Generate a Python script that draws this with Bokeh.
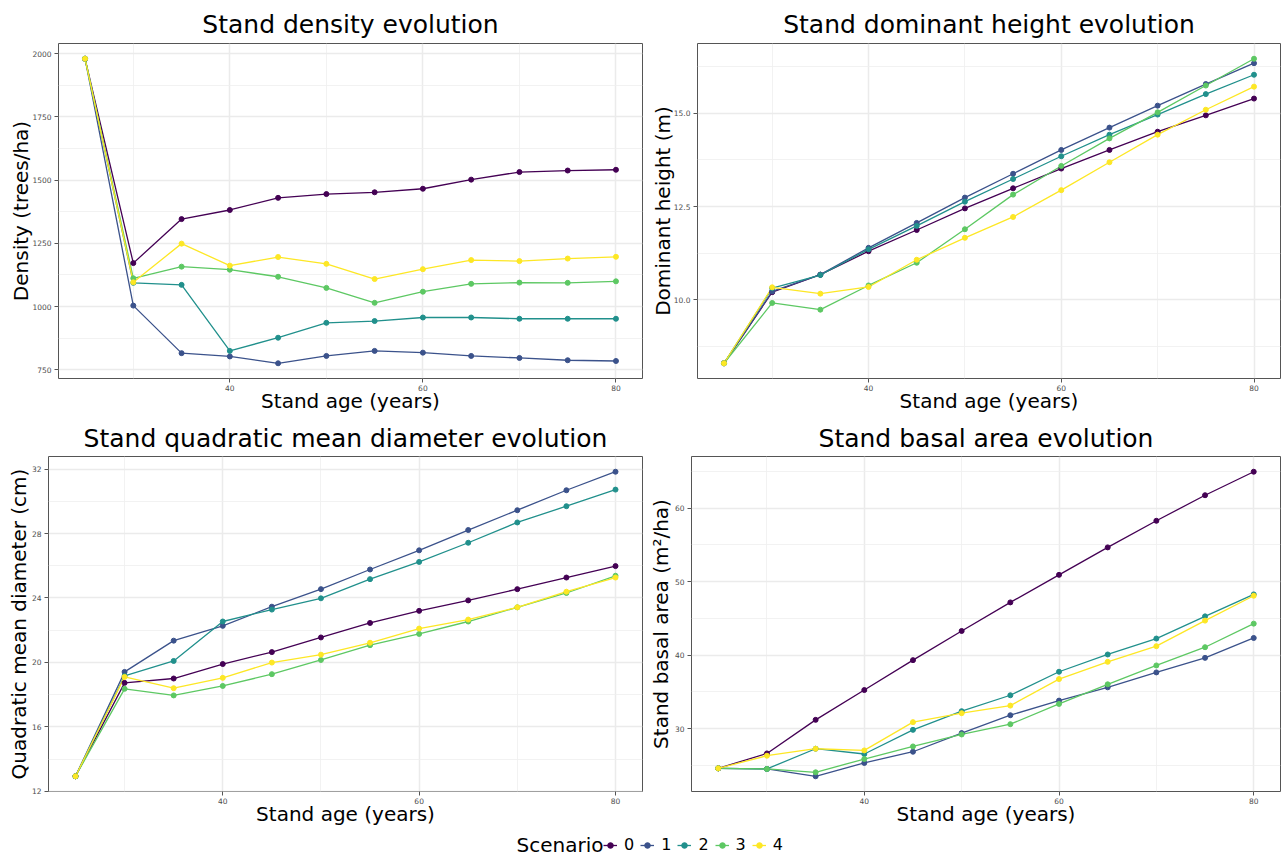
from bokeh.plotting import figure
from bokeh.layouts import column, row
from bokeh.models import Range1d, FixedTicker, Legend, LegendItem, Label
from bokeh.embed import file_html
from bokeh.resources import INLINE

FONT = "DejaVu Sans"

AGES = [25, 30, 35, 40, 45, 50, 55, 60, 65, 70, 75, 80]
SCENARIOS = ["0", "1", "2", "3", "4"]
COLORS = ["#440154", "#3B528B", "#21908C", "#5DC863", "#FDE725"]

# Density (trees/ha)
DENSITY_S0 = [1980, 1172, 1346, 1382, 1430, 1445, 1452, 1466, 1502, 1532, 1538, 1541]
DENSITY_S1 = [1980, 1004, 816, 803, 776, 805, 825, 818, 805, 797, 788, 785]
DENSITY_S2 = [1980, 1094, 1086, 825, 877, 936, 943, 957, 957, 952, 952, 952]
DENSITY_S3 = [1980, 1112, 1158, 1146, 1118, 1074, 1015, 1059, 1090, 1095, 1094, 1100]
DENSITY_S4 = [1980, 1096, 1249, 1162, 1196, 1169, 1109, 1148, 1184, 1180, 1190, 1197]

# Dominant height (m)
HEIGHT_S0 = [8.29, 10.20, 10.67, 11.30, 11.87, 12.45, 12.99, 13.52, 14.02, 14.51, 14.95, 15.40]
HEIGHT_S1 = [8.29, 10.22, 10.67, 11.39, 12.06, 12.74, 13.38, 14.02, 14.62, 15.21, 15.79, 16.35]
HEIGHT_S2 = [8.29, 10.31, 10.66, 11.35, 11.98, 12.63, 13.24, 13.85, 14.43, 14.97, 15.52, 16.04]
HEIGHT_S3 = [8.29, 9.91, 9.73, 10.38, 10.99, 11.89, 12.82, 13.59, 14.33, 15.03, 15.75, 16.47]
HEIGHT_S4 = [8.29, 10.33, 10.16, 10.34, 11.07, 11.66, 12.22, 12.94, 13.69, 14.43, 15.10, 15.72]

# Quadratic mean diameter (cm)
QMD_S0 = [12.93, 18.73, 19.00, 19.90, 20.64, 21.55, 22.45, 23.20, 23.85, 24.55, 25.27, 25.98]
QMD_S1 = [12.93, 19.41, 21.35, 22.27, 23.46, 24.55, 25.77, 26.96, 28.22, 29.45, 30.69, 31.84]
QMD_S2 = [12.93, 19.16, 20.09, 22.54, 23.28, 23.98, 25.17, 26.24, 27.43, 28.69, 29.70, 30.73]
QMD_S3 = [12.93, 18.36, 17.95, 18.54, 19.27, 20.15, 21.07, 21.77, 22.54, 23.42, 24.31, 25.38]
QMD_S4 = [12.93, 19.10, 18.40, 19.04, 19.99, 20.48, 21.22, 22.10, 22.66, 23.42, 24.39, 25.27]

# Basal area (m2/ha)
BA_S0 = [24.58, 26.61, 31.18, 35.24, 39.31, 43.28, 47.17, 50.92, 54.66, 58.28, 61.76, 64.96]
BA_S1 = [24.58, 24.50, 23.50, 25.31, 26.84, 29.38, 31.81, 33.80, 35.61, 37.64, 39.62, 42.33]
BA_S2 = [24.58, 24.50, 27.25, 26.53, 29.82, 32.36, 34.53, 37.73, 40.08, 42.25, 45.27, 48.26]
BA_S3 = [24.58, 24.50, 24.04, 25.85, 27.56, 29.19, 30.59, 33.35, 36.02, 38.59, 41.07, 44.28]
BA_S4 = [24.58, 26.30, 27.25, 27.02, 30.87, 32.09, 33.12, 36.73, 39.08, 41.21, 44.69, 48.08]

X_TICKS = [40, 60, 80]
X_MINOR = [30, 50, 70]
X_TICK_LABELS = ["40", "60", "80"]

DENSITY_TICKS = [750, 1000, 1250, 1500, 1750, 2000]
DENSITY_MINOR = [875, 1125, 1375, 1625, 1875]
DENSITY_TICK_LABELS = ["750", "1000", "1250", "1500", "1750", "2000"]

HEIGHT_TICKS = [10, 12.5, 15]
HEIGHT_MINOR = [8.75, 11.25, 13.75, 16.25]
HEIGHT_TICK_LABELS = ["10.0", "12.5", "15.0"]

QMD_TICKS = [12, 16, 20, 24, 28, 32]
QMD_MINOR = [14, 18, 22, 26, 30]
QMD_TICK_LABELS = ["12", "16", "20", "24", "28", "32"]

BA_TICKS = [30, 40, 50, 60]
BA_MINOR = [25, 35, 45, 55, 65]
BA_TICK_LABELS = ["30", "40", "50", "60"]


def make_panel(title, ylabel, series, yticks, yminor, ylabels,
               width, height, bl, br, bt, bb, title_standoff, ylab_standoff):
    allv = [v for s in series for v in s]
    lo, hi = min(allv), max(allv)
    pad = 0.05 * (hi - lo)
    xlo, xhi = min(AGES), max(AGES)
    xpad = 0.05 * (xhi - xlo)
    p = figure(width=width, height=height, output_backend="svg",
               toolbar_location=None,
               x_range=Range1d(xlo - xpad, xhi + xpad),
               y_range=Range1d(lo - pad, hi + pad),
               min_border_left=bl, min_border_right=br,
               min_border_top=bt, min_border_bottom=bb,
               title=title)
    p.background_fill_color = "white"
    p.border_fill_color = "white"
    p.outline_line_color = "#555555"
    p.outline_line_width = 1

    p.title.text_font = FONT
    p.title.text_font_size = "25px"
    p.title.text_font_style = "normal"
    p.title.text_color = "black"
    p.title.align = "center"
    p.title.standoff = title_standoff

    p.xaxis.ticker = FixedTicker(ticks=X_TICKS, minor_ticks=X_MINOR)
    p.xaxis.major_label_overrides = {t: l for t, l in zip(X_TICKS, X_TICK_LABELS)}
    p.yaxis.ticker = FixedTicker(ticks=yticks, minor_ticks=yminor)
    p.yaxis.major_label_overrides = {t: l for t, l in zip(yticks, ylabels)}

    p.xaxis.axis_label = "Stand age (years)"
    p.yaxis.axis_label = ylabel
    for ax in (p.xaxis, p.yaxis):
        ax.axis_label_text_font = FONT
        ax.axis_label_text_font_size = "20px"
        ax.axis_label_text_font_style = "normal"
        ax.axis_label_text_color = "black"
        ax.major_label_text_font = FONT
        ax.major_label_text_font_size = "7.5px"
        ax.major_label_text_color = "#4D4D4D"
        ax.axis_line_color = None
        ax.major_tick_out = 4
        ax.major_tick_in = 0
        ax.major_tick_line_color = "#555555"
        ax.minor_tick_line_color = None
    p.xaxis.major_label_standoff = 2
    p.xaxis.axis_label_standoff = -5
    p.yaxis.major_label_standoff = 3
    p.yaxis.axis_label_standoff = ylab_standoff

    for g in (p.xgrid, p.ygrid):
        g.grid_line_color = "#EBEBEB"
        g.grid_line_width = 1.5
        g.minor_grid_line_color = "#EFEFEF"
        g.minor_grid_line_width = 0.8

    for i, s in enumerate(series):
        p.line(AGES, s, line_color=COLORS[i], line_width=1.3)
    for i, s in enumerate(series):
        p.scatter(AGES, s, size=5, fill_color=COLORS[i], line_color=COLORS[i])
    return p


p1 = make_panel("Stand density evolution", "Density (trees/ha)",
                [DENSITY_S0, DENSITY_S1, DENSITY_S2, DENSITY_S3, DENSITY_S4],
                DENSITY_TICKS, DENSITY_MINOR, DENSITY_TICK_LABELS,
                645, 415, 58, 3, 43, 37, 9, -4)
p2 = make_panel("Stand dominant height evolution", "Dominant height (m)",
                [HEIGHT_S0, HEIGHT_S1, HEIGHT_S2, HEIGHT_S3, HEIGHT_S4],
                HEIGHT_TICKS, HEIGHT_MINOR, HEIGHT_TICK_LABELS,
                636, 415, 52, 1, 43, 37, 9, -4)
p3 = make_panel("Stand quadratic mean diameter evolution", "Quadratic mean diameter (cm)",
                [QMD_S0, QMD_S1, QMD_S2, QMD_S3, QMD_S4],
                QMD_TICKS, QMD_MINOR, QMD_TICK_LABELS,
                645, 416, 48, 3, 41, 40, 8, -2)
p4 = make_panel("Stand basal area evolution", "Stand basal area (m²/ha)",
                [BA_S0, BA_S1, BA_S2, BA_S3, BA_S4],
                BA_TICKS, BA_MINOR, BA_TICK_LABELS,
                636, 416, 46, 1, 41, 40, 8, -1)

# Legend strip
pleg = figure(width=1281, height=26, output_backend="svg", toolbar_location=None,
              x_range=Range1d(0, 1), y_range=Range1d(0, 1),
              x_axis_type=None, y_axis_type=None, min_border=0)
pleg.outline_line_color = None
pleg.background_fill_color = "white"
pleg.border_fill_color = "white"
items = []
for i, lab in enumerate(SCENARIOS):
    lr = pleg.line([5, 6], [5, 6], line_color=COLORS[i], line_width=1.3)
    sr = pleg.scatter([5], [5], size=5, fill_color=COLORS[i], line_color=COLORS[i])
    items.append(LegendItem(label=lab, renderers=[lr, sr]))
legend = Legend(items=items, orientation="horizontal", location=(603, 3),
                glyph_width=14, glyph_height=14, label_standoff=7,
                label_width=10, label_height=14, spacing=6, padding=0, margin=0,
                border_line_color=None, background_fill_alpha=0,
                label_text_font=FONT, label_text_font_size="16px",
                label_text_color="black")
pleg.add_layout(legend, "center")
pleg.add_layout(Label(x=516, y=13, x_units="screen", y_units="screen",
                      text="Scenario", text_font=FONT, text_font_size="20px",
                      text_baseline="middle", text_color="black"))

layout = column(row(p1, p2), row(p3, p4), pleg)

with open("out.html", "w") as f:
    f.write(file_html(layout, INLINE))
